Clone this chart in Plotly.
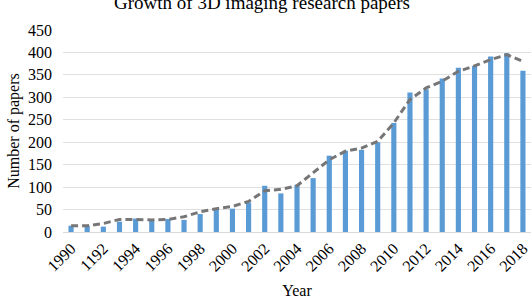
import plotly.graph_objects as go

years = [1990, 1991, 1992, 1993, 1994, 1995, 1996, 1997, 1998, 1999,
         2000, 2001, 2002, 2003, 2004, 2005, 2006, 2007, 2008, 2009,
         2010, 2011, 2012, 2013, 2014, 2015, 2016, 2017, 2018]
papers = [14, 14, 12, 23, 30, 27, 29, 27, 40, 52,
          52, 66, 103, 86, 105, 120, 170, 181, 183, 200,
          243, 311, 318, 342, 366, 370, 391, 398, 359]
trend = [14, 14, 19, 28, 28, 27, 28, 34, 45, 52,
         57, 68, 92, 95, 103, 131, 161, 180, 187, 202,
         243, 295, 321, 336, 358, 370, 384, 395, 380]
tick_years = [1990, 1992, 1994, 1996, 1998, 2000, 2002, 2004,
              2006, 2008, 2010, 2012, 2014, 2016, 2018]
tick_labels = ["1990", "1192", "1994", "1996", "1998", "2000", "2002", "2004",
               "2006", "2008", "2010", "2012", "2014", "2016", "2018"]
y_ticks = [0, 50, 100, 150, 200, 250, 300, 350, 400, 450]

FONT = "Liberation Serif"

fig = go.Figure()
fig.add_trace(go.Bar(x=years, y=papers, marker=dict(color="#5B9BD5", line=dict(width=0)),
                     width=0.32, showlegend=False))
fig.add_trace(go.Scatter(x=years, y=trend, mode="lines",
                         line=dict(color="#767676", width=3, dash="7px,4px"),
                         showlegend=False))

fig.update_layout(
    width=531, height=302,
    margin=dict(l=63, r=0, t=30, b=70),
    paper_bgcolor="white", plot_bgcolor="white",
    font=dict(family=FONT, color="black", size=15),
    bargap=0.68,
    annotations=[dict(text="Growth of 3D imaging research papers", xref="paper", yref="paper",
                      x=0.425, y=1.0, yshift=15, xanchor="center", yanchor="bottom",
                      showarrow=False, font=dict(family=FONT, size=19, color="black"))],
)
fig.update_xaxes(range=[1989.5, 2018.5], tickmode="array", tickvals=tick_years,
                 ticktext=tick_labels, tickangle=-45, showgrid=False,
                 showline=True, linecolor="#d9d9d9", linewidth=1,
                 title=dict(text="Year", font=dict(family=FONT, size=16), standoff=11),
                 tickfont=dict(family=FONT, size=16), ticks="")
fig.update_yaxes(range=[0, 450], tickmode="array", tickvals=y_ticks,
                 showgrid=True, gridcolor="#e0e0e0", gridwidth=1, zeroline=False,
                 tickfont=dict(family=FONT, size=16), ticklabelstandoff=10,
                 title=dict(text="Number of papers", font=dict(family=FONT, size=16), standoff=4))

fig.write_html("out.html")
